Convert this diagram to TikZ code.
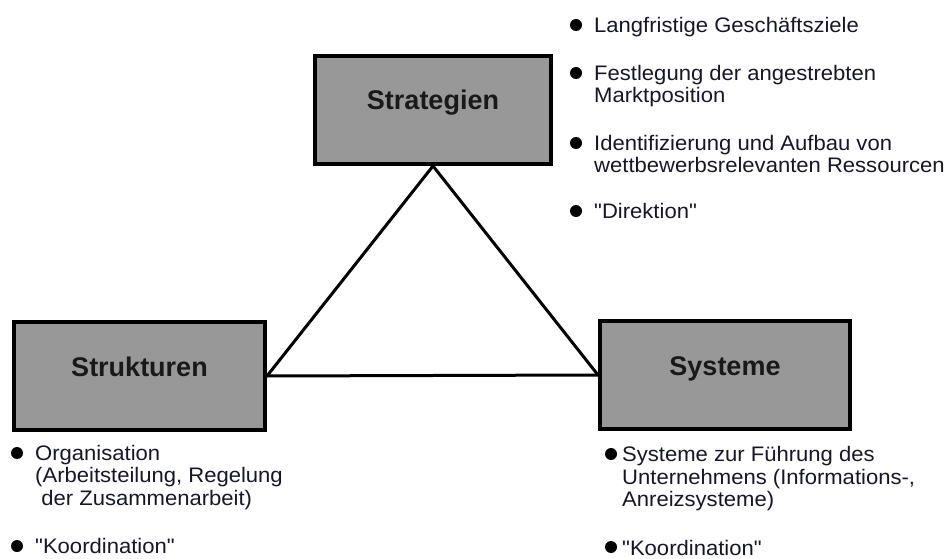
\documentclass[tikz,border=0pt]{standalone}
\usepackage{fontspec}
\setmainfont{Liberation Sans}
\newfontfamily\widesans{Liberation Sans}[FakeStretch=1.05]
\usetikzlibrary{positioning}
\definecolor{boxGray}{RGB}{152,152,152}
\definecolor{itemInk}{RGB}{22,22,40}

\begin{document}
\begin{tikzpicture}[x=1pt, y=-1pt,
  lever/.style={draw=black, line width=4pt, fill=boxGray, minimum height=108pt,
                inner sep=0pt, text=black!90, text height=18pt, text depth=18pt,
                font=\fontsize{27}{30}\selectfont\bfseries},
  dot/.style={circle, fill=black, inner sep=0pt, minimum size=12pt},
  item/.style={anchor=north west, inner sep=0pt, align=left, text=itemInk,
               font=\widesans\fontsize{21}{22.5}\selectfont},
  link/.style={line width=3pt}]

  \useasboundingbox (0,0) rectangle (946,559);

  \node[lever, minimum width=236pt] (strat) at (433,110)   {Strategien};
  \node[lever, minimum width=251pt] (struk) at (139.5,376) {Strukturen};
  \node[lever, minimum width=250pt] (syst)  at (725,375)   {Systeme};

  \draw[link] (struk.east) -- (strat.south) -- (syst.west);
  \draw[link] (struk.east) -- (syst.west);

  \node[dot] (stratA) at (576,25)  {};
  \node[item] (stratAt) at (594,17)  {Langfristige Geschäftsziele};
  \node[dot] (stratB) at (576,73)  {};
  \node[item] (stratBt) at (594,65)  {Festlegung der angestrebten\\Marktposition};
  \node[dot] (stratC) at (576,143) {};
  \node[item] (stratCt) at (594,135) {Identifizierung und Aufbau von\\wettbewerbsrelevanten Ressourcen};
  \node[dot] (stratD) at (576,211) {};
  \node[item] (stratDt) at (594,203) {"Direktion"};

  \node[dot] (strukA) at (17,453) {};
  \node[item] (strukAt) at (35,445) {Organisation\\(Arbeitsteilung, Regelung\\\ der Zusammenarbeit)};
  \node[dot] (strukB) at (17,546) {};
  \node[item] (strukBt) at (35,538.5) {"Koordination"};

  \node[dot] (systA) at (611,454) {};
  \node[item] (systAt) at (622,446.5) {Systeme zur Führung des\\Unternehmens (Informations-,\\Anreizsysteme)};
  \node[dot] (systB) at (611,547) {};
  \node[item] (systBt) at (622,540) {"Koordination"};

\end{tikzpicture}
\end{document}
